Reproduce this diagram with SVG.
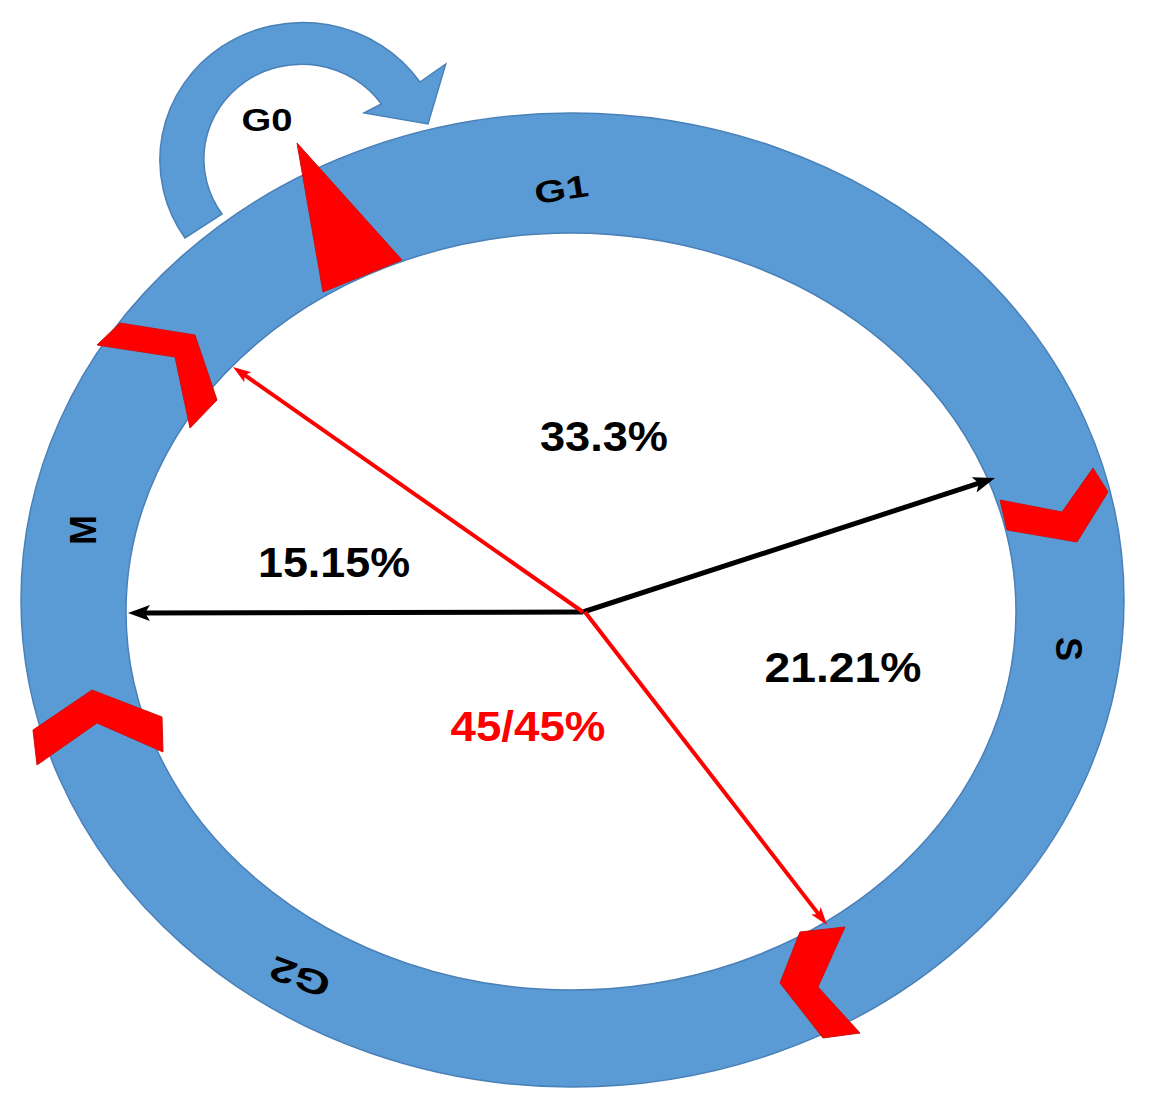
<svg xmlns="http://www.w3.org/2000/svg" width="1151" height="1110" viewBox="0 0 1151 1110">
<style>
.blue{fill:#5b9bd5;stroke:#4a80b8;stroke-width:1.5}
.red{fill:#ff0000;stroke:#d01010;stroke-width:1}
.lbl{font-family:"Liberation Sans",Arial,sans-serif;font-weight:bold;fill:#000;text-anchor:middle}
.pct{font-family:"Liberation Sans",Arial,sans-serif;font-weight:bold;font-size:42px;text-anchor:middle}
.blk{stroke:#000;stroke-width:5;fill:none}
.rd{stroke:#ff0000;stroke-width:4;fill:none}
</style>
<defs>
<marker id="ab" markerUnits="userSpaceOnUse" markerWidth="24" markerHeight="18" refX="10" refY="8" orient="auto">
<path d="M0,0 L22,8 L0,16 L5,8 z" fill="#000"/>
</marker>
<marker id="ar" markerUnits="userSpaceOnUse" markerWidth="20" markerHeight="14" refX="8" refY="6" orient="auto">
<path d="M0,0 L18,6 L0,12 L4,6 z" fill="#ff0000"/>
</marker>
</defs>
<rect width="1151" height="1110" fill="#fff"/>
<g id="g0-arrow">
<path class="blue" d="M185,238 A140,135 0 1 1 420,82 L445.7,64 L428,124 L364,113 L381.4,104 A95,92 0 1 0 222,214 Z"/>
</g>
<g id="ring">
<path class="blue" fill-rule="evenodd" d="M21,600 A551.5,487 0 1 1 1124,600 A551.5,487 0 1 1 21,600 Z M126,611.5 A445,378.5 0 1 0 1016,611.5 A445,378.5 0 1 0 126,611.5 Z"/>
</g>
<g id="g0-marker">
<polygon class="red" points="297,143 402,260 323,292"/>
</g>
<g id="chevron-m">
<polygon class="red" points="120,323 195,335 217,400 190,428 175,357 97,345"/>
</g>
<g id="chevron-s">
<polygon class="red" points="1000,500 1062,512 1093,468 1108,492 1077,542 1007,530"/>
</g>
<g id="chevron-g2">
<polygon class="red" points="33,730 92,690 162,717 163,752 97,723 37,765"/>
</g>
<g id="chevron-g2s">
<polygon class="red" points="800,932 845,927 818,987 860,1033 823,1038 780,983"/>
</g>
<g id="connectors">
<line class="blk" x1="583" y1="612" x2="140" y2="613" marker-end="url(#ab)"/>
<line class="blk" x1="583" y1="612" x2="983.6" y2="481.7" marker-end="url(#ab)"/>
<line class="rd" x1="583" y1="612" x2="241.2" y2="372.7" marker-end="url(#ar)"/>
<line class="rd" x1="585" y1="612" x2="820.9" y2="917.1" marker-end="url(#ar)"/>
</g>
<g id="labels">
<text class="lbl" x="267" y="131" font-size="31" textLength="51" lengthAdjust="spacingAndGlyphs">G0</text>
<text class="lbl" font-size="31" textLength="54" lengthAdjust="spacingAndGlyphs" transform="translate(563,200) rotate(-9)">G1</text>
<text class="lbl" font-size="36" transform="translate(96,530) rotate(-90)">M</text>
<text class="lbl" font-size="36" transform="translate(1056,649) rotate(90)">S</text>
<text class="lbl" font-size="34" textLength="62" lengthAdjust="spacingAndGlyphs" transform="translate(304,966) rotate(200)">G2</text>
<text class="pct" x="604" y="451" textLength="128" lengthAdjust="spacingAndGlyphs">33.3%</text>
<text class="pct" x="334" y="577" textLength="152" lengthAdjust="spacingAndGlyphs">15.15%</text>
<text class="pct" x="843" y="682" textLength="157" lengthAdjust="spacingAndGlyphs">21.21%</text>
<text class="pct" x="528" y="741" fill="#ff0000" textLength="155" lengthAdjust="spacingAndGlyphs">45/45%</text>
</g>
</svg>
